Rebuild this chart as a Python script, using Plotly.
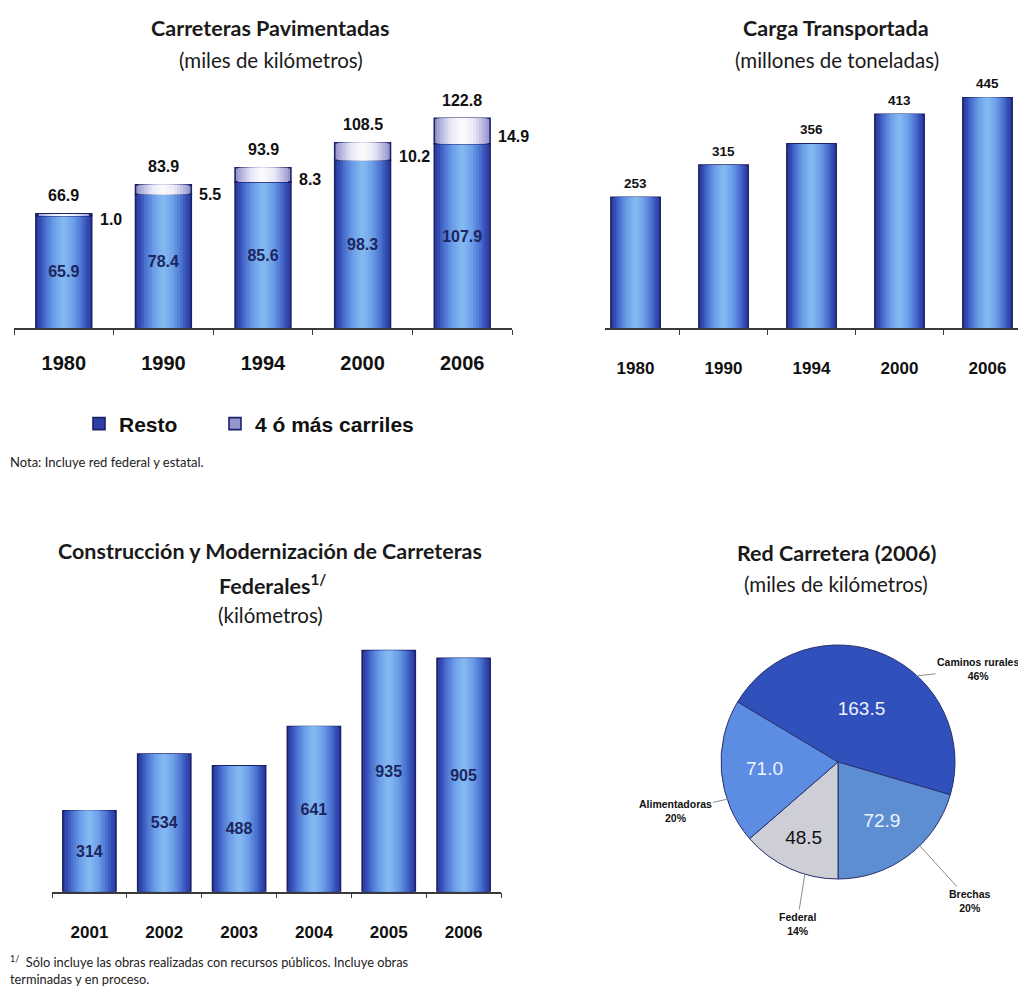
import plotly.graph_objects as go

# page is 1026x998; the html body adds an 8px margin, so the figure is 1018x990 at (8, 8)
PAGE_OFF = 8
FW, FH = 1018, 990

# ---------------- data ----------------
pav_years = ["1980", "1990", "1994", "2000", "2006"]
pav_resto = [65.9, 78.4, 85.6, 98.3, 107.9]
pav_4mas = [1.0, 5.5, 8.3, 10.2, 14.9]
pav_total = [66.9, 83.9, 93.9, 108.5, 122.8]

carga_years = ["1980", "1990", "1994", "2000", "2006"]
carga_values = [253, 315, 356, 413, 445]

cons_years = ["2001", "2002", "2003", "2004", "2005", "2006"]
cons_values = [314, 534, 488, 641, 935, 905]

red_labels = ["Caminos rurales", "Brechas", "Federal", "Alimentadoras"]
red_values = [163.5, 72.9, 48.5, 71.0]


# ---------------- helpers ----------------
def fx(p):
    return (p - PAGE_OFF) / FW


def fy(p):
    return 1 - (p - PAGE_OFF) / FH


def shade(stops, r):
    for (r0, c0), (r1, c1) in zip(stops[:-1], stops[1:]):
        if r0 <= r <= r1:
            t = (r - r0) / (r1 - r0) if r1 > r0 else 0
            c = [round(a + (b - a) * t) for a, b in zip(c0, c1)]
            return f"rgb({c[0]},{c[1]},{c[2]})"
    c = stops[-1][1]
    return f"rgb({c[0]},{c[1]},{c[2]})"


BLUE = [(0.0, (138, 192, 243)), (0.4, (108, 158, 232)), (0.72, (72, 110, 206)), (0.88, (52, 76, 178)), (1.0, (46, 64, 165))]
LAV = [(0.0, (254, 254, 255)), (0.45, (234, 234, 247)), (0.75, (190, 190, 226)), (1.0, (150, 150, 204))]
OUTLINE = "#1a2168"
LABEL_FONT = "Liberation Sans, Arial, sans-serif"
TITLE_FONT = "Lato, sans-serif"

fig = go.Figure()


def add_cylinder(x, y, base, width, stops, xa, ya, name=None, legend=None, n=10):
    for i in range(n):
        frac = 1 - i / n
        fig.add_trace(go.Bar(
            x=x, y=y, base=base, width=width * frac, xaxis=xa, yaxis=ya,
            marker=dict(color=shade(stops, frac),
                        line=dict(width=1.6 if i == 0 else 0, color=OUTLINE)),
            name=name, showlegend=(legend is not None and i == 0),
            legend=legend if legend else "legend", hoverinfo="skip",
        ))


def add_text_overlay(x, y, base, width, xa, ya, size):
    fig.add_trace(go.Bar(
        x=x, y=y, base=base, width=width, xaxis=xa, yaxis=ya,
        marker=dict(color="rgba(0,0,0,0)", line=dict(width=0)),
        text=[f"{v:g}" if isinstance(v, int) else f"{v:.1f}" for v in y],
        textposition="inside", insidetextanchor="middle", constraintext="none",
        textfont=dict(family=LABEL_FONT, size=size, color="#1b2560", weight="bold"),
        showlegend=False, hoverinfo="skip",
    ))


annotations = []

# ---------------- chart 1: Carreteras Pavimentadas ----------------
W1 = 0.56
add_cylinder(pav_years, pav_resto, [0] * len(pav_resto), W1, BLUE, "x", "y", name="Resto", legend="legend")
add_cylinder(pav_years, pav_4mas, pav_resto, W1, LAV, "x", "y", name="4 ó más carriles", legend="legend2")
add_text_overlay(pav_years, pav_resto, [0] * len(pav_resto), W1, "x", "y", 16)

for i, tot in enumerate(pav_total):
    annotations.append(dict(x=i, y=tot, xref="x", yref="y", yshift=18, text=f"{tot:.1f}",
                            showarrow=False, xanchor="center", yanchor="middle",
                            font=dict(family=LABEL_FONT, size=16, color="#111", weight="bold")))
for i, (r, l) in enumerate(zip(pav_resto, pav_4mas)):
    annotations.append(dict(x=i, y=r + l / 2, xref="x", yref="y", xshift=34, yshift=-5,
                            text=f"{l:.1f}", showarrow=False, xanchor="left", yanchor="middle",
                            font=dict(family=LABEL_FONT, size=16, color="#111", weight="bold")))

# ---------------- chart 2: Carga Transportada ----------------
W2 = 0.56
add_cylinder(carga_years, carga_values, [0] * len(carga_values), W2, BLUE, "x2", "y2")
for i, v in enumerate(carga_values):
    annotations.append(dict(x=i, y=v, xref="x2", yref="y2", yshift=14, text=str(v),
                            showarrow=False, xanchor="center", yanchor="middle",
                            font=dict(family=LABEL_FONT, size=13.5, color="#111", weight="bold")))

# ---------------- chart 3: Construcción y Modernización ----------------
W3 = 0.71
add_cylinder(cons_years, cons_values, [0] * len(cons_values), W3, BLUE, "x3", "y3")
add_text_overlay(cons_years, cons_values, [0] * len(cons_values), W3, "x3", "y3", 16)

# ---------------- chart 4: Red Carretera pie ----------------
total_red = sum(red_values)
pie_rot = 180 - 360 * (red_values[0] + red_values[1]) / total_red
pie_colors = ["#3050bb", "#5d8ed2", "#cdced6", "#5c8de2"]
pie_text_colors = ["#eef3ff", "#eef3ff", "#111111", "#eef3ff"]
pcx, pcy, pr = 838, 762, 117
fig.add_trace(go.Pie(
    labels=red_labels, values=red_values, sort=False, direction="clockwise",
    rotation=pie_rot,
    marker=dict(colors=pie_colors, line=dict(color="#27306e", width=1)),
    texttemplate="%{value:.1f}", textposition="inside", insidetextorientation="horizontal",
    textfont=dict(family=LABEL_FONT, size=19, color=pie_text_colors),
    domain=dict(x=[fx(pcx - pr), fx(pcx + pr)], y=[fy(pcy + pr), fy(pcy - pr)]),
    showlegend=False, hoverinfo="label+value+percent",
))

# outside labels for pie (label text and percents from the data)
pie_label_pos = {
    "Caminos rurales": ((978, 669), (916, 676)),
    "Brechas": ((970, 901), (920, 846)),
    "Federal": ((797, 924), (805, 873)),
    "Alimentadoras": ((675, 811), (728, 799)),
}
for lab, val in zip(red_labels, red_values):
    (tx, ty), (tipx, tipy) = pie_label_pos[lab]
    pct = round(100 * val / total_red)
    annotations.append(dict(
        x=fx(tipx), y=fy(tipy), xref="paper", yref="paper",
        ax=tx - tipx, ay=ty - tipy, axref="pixel", ayref="pixel",
        text=f"{lab}<br>{pct}%", showarrow=True, arrowhead=0, arrowwidth=1,
        arrowcolor="#8c8c8c", standoff=0, startstandoff=0,
        font=dict(family=LABEL_FONT, size=10.5, color="#111", weight="bold"),
    ))


# ---------------- titles & notes ----------------
def title(text, x, y, size=21.5, bold=True):
    annotations.append(dict(x=fx(x), y=fy(y), xref="paper", yref="paper", text=text,
                            showarrow=False, xanchor="center", yanchor="middle",
                            font=dict(family=TITLE_FONT, size=size, color="#1a1a1a",
                                      weight="bold" if bold else "normal")))


title("Carreteras Pavimentadas", 270, 28)
title("(miles de kilómetros)", 271, 60, size=20.5, bold=False)
title("Carga Transportada", 836, 28)
title("(millones de toneladas)", 837, 60, size=20.5, bold=False)
title("Construcción y Modernización de Carreteras", 270, 551)
title("Federales<sup>1/</sup>", 272, 584)
title("(kilómetros)", 270, 615, size=20.5, bold=False)
title("Red Carretera (2006)", 836, 553)
title("(miles de kilómetros)", 836, 584, size=20.5, bold=False)

annotations.append(dict(x=fx(8), y=fy(462), xref="paper", yref="paper",
                        text="Nota: Incluye red federal y estatal.", showarrow=False,
                        xanchor="left", yanchor="middle",
                        font=dict(family=TITLE_FONT, size=13, color="#222")))
annotations.append(dict(x=fx(8), y=fy(951), xref="paper", yref="paper",
                        text="<sup>1/</sup>  Sólo incluye las obras realizadas con recursos públicos. Incluye obras<br>terminadas y en proceso.",
                        showarrow=False, xanchor="left", yanchor="top", align="left",
                        font=dict(family=TITLE_FONT, size=12.8, color="#222")))


# ---------------- axes ----------------
def xaxis(domain, rng, size, standoff):
    return dict(domain=domain, type="category", range=rng, showline=True, linecolor="#3a3a3a",
                linewidth=1.5, ticks="outside", tickson="boundaries", ticklen=5, tickcolor="#3a3a3a",
                tickwidth=1, showgrid=False, zeroline=False, ticklabelstandoff=standoff,
                tickfont=dict(family=LABEL_FONT, size=size, color="#111", weight="bold"),
                fixedrange=True)


def yaxis(base_px, top_px, scale, anchor):
    return dict(domain=[fy(base_px), fy(top_px)], range=[0, (base_px - top_px) / scale],
                visible=False, showgrid=False, zeroline=False, anchor=anchor, fixedrange=True)


legend_font = dict(family=LABEL_FONT, size=21, color="#111", weight="bold")
fig.update_layout(
    width=FW, height=FH, margin=dict(l=0, r=0, t=0, b=0),
    paper_bgcolor="white", plot_bgcolor="rgba(0,0,0,0)",
    barmode="overlay",
    xaxis=dict(**xaxis([fx(14), fx(512)], [-0.5, 4.5], 20, 16), anchor="y"),
    yaxis=yaxis(328.3, 90, 1.71, "x"),
    xaxis2=dict(**xaxis([fx(605), fx(1026)], [-0.347, 4.4375], 17, 24), anchor="y2"),
    yaxis2=yaxis(328.3, 80, 0.518, "x2"),
    xaxis3=dict(**xaxis([fx(52), fx(501)], [-0.5, 5.5], 17, 24), anchor="y3"),
    yaxis3=yaxis(891.7, 640, 0.2578, "x3"),
    legend=dict(orientation="h", x=fx(79), y=fy(424), xanchor="left", yanchor="middle",
                font=legend_font, bgcolor="rgba(0,0,0,0)"),
    legend2=dict(orientation="h", x=fx(215), y=fy(424), xanchor="left", yanchor="middle",
                 font=legend_font, bgcolor="rgba(0,0,0,0)"),
    annotations=annotations,
    showlegend=True,
)

fig.write_html("out.html")
